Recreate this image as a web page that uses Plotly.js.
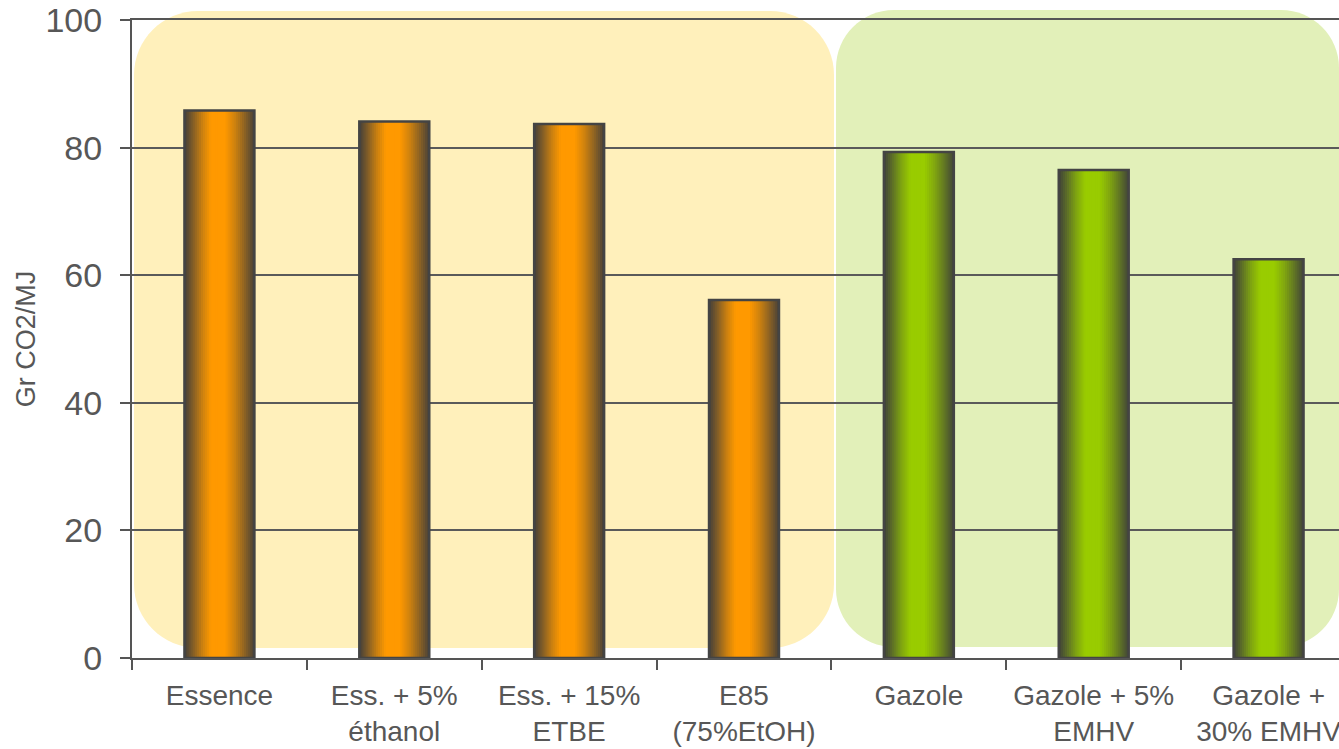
<!DOCTYPE html>
<html>
<head>
<meta charset="utf-8">
<script src="https://cdn.plot.ly/plotly-3.0.1.min.js"></script>
<style>
  html, body { margin: 0; padding: 0; overflow: hidden; background: #ffffff; }
  #chart { width: 1380px; height: 749px; }
</style>
</head>
<body>
<div id="chart"></div>
<script>
// ---- Data ----
var categories = [
  "Essence",
  "Ess. + 5%<br>éthanol",
  "Ess. + 15%<br>ETBE",
  "E85<br>(75%EtOH)",
  "Gazole",
  "Gazole + 5%<br>EMHV",
  "Gazole +<br>30% EMHV"
];
var values = [85.8, 84.1, 83.7, 56.1, 79.3, 76.5, 62.5];
var groups = ["essence", "essence", "essence", "essence", "gazole", "gazole", "gazole"];
var yTickVals = [0, 20, 40, 60, 80, 100];
var yTitle = "Gr CO2/MJ";

// ---- Styles ----
var baseColors = { essence: [255, 153, 0], gazole: [153, 204, 0] };
var darkColor = [60, 60, 60];
var barWidth = 0.40;
var nSlices = 34;
// brightness profile across the bar (cylinder shading)
var profile = [[0, 0.04], [0.1, 0.3], [0.25, 0.72], [0.38, 1], [0.58, 1], [0.72, 0.75], [0.86, 0.42], [1, 0.06]];

function profileAt(t) {
  for (var i = 1; i < profile.length; i++) {
    if (t <= profile[i][0]) {
      var a = profile[i - 1], b = profile[i];
      var f = (t - a[0]) / (b[0] - a[0]);
      return a[1] + f * (b[1] - a[1]);
    }
  }
  return profile[profile.length - 1][1];
}
function mix(c, w) {
  return 'rgb(' + [0, 1, 2].map(function (k) {
    return Math.round(darkColor[k] + (c[k] - darkColor[k]) * w);
  }).join(',') + ')';
}

var traces = [];
for (var s = 0; s < nSlices; s++) {
  var start = s / nSlices;
  var tMid = (s + 0.5) / nSlices;
  var w = profileAt(tMid);
  traces.push({
    type: 'bar',
    x: categories,
    y: values,
    width: barWidth * (1 - start),
    offset: -barWidth / 2 + barWidth * start,
    marker: {
      color: groups.map(function (g) { return mix(baseColors[g], w); }),
      line: { width: 0 }
    },
    hoverinfo: 'skip',
    showlegend: false
  });
}
// outline
traces.push({
  type: 'bar',
  x: categories,
  y: values,
  width: barWidth,
  offset: -barWidth / 2,
  marker: { color: 'rgba(0,0,0,0)', line: { width: 2.5, color: '#444444' } },
  hovertemplate: '%{y}<extra></extra>',
  showlegend: false
});

// ---- Background rounded panels (paper coords) ----
var plotL = 132, plotR = 1356, plotT = 20, plotB = 658;
function px2paperX(px) { return (px - plotL) / (plotR - plotL); }
function px2paperY(py) { return (plotB - py) / (plotB - plotT); }
function roundedRect(x0, y0, x1, y1, r) {
  var k = 0.5523 * r;
  var X = px2paperX, Y = px2paperY;
  var p = [];
  p.push('M' + X(x0 + r) + ',' + Y(y0));
  p.push('L' + X(x1 - r) + ',' + Y(y0));
  p.push('C' + X(x1 - r + k) + ',' + Y(y0) + ' ' + X(x1) + ',' + Y(y0 + r - k) + ' ' + X(x1) + ',' + Y(y0 + r));
  p.push('L' + X(x1) + ',' + Y(y1 - r));
  p.push('C' + X(x1) + ',' + Y(y1 - r + k) + ' ' + X(x1 - r + k) + ',' + Y(y1) + ' ' + X(x1 - r) + ',' + Y(y1));
  p.push('L' + X(x0 + r) + ',' + Y(y1));
  p.push('C' + X(x0 + r - k) + ',' + Y(y1) + ' ' + X(x0) + ',' + Y(y1 - r + k) + ' ' + X(x0) + ',' + Y(y1 - r));
  p.push('L' + X(x0) + ',' + Y(y0 + r));
  p.push('C' + X(x0) + ',' + Y(y0 + r - k) + ' ' + X(x0 + r - k) + ',' + Y(y0) + ' ' + X(x0 + r) + ',' + Y(y0));
  p.push('Z');
  return p.join(' ');
}

var shapes = [
  { type: 'path', xref: 'paper', yref: 'paper', layer: 'below',
    path: roundedRect(134, 11, 834, 648, 64), fillcolor: '#FFF0BB', line: { width: 0 } },
  { type: 'path', xref: 'paper', yref: 'paper', layer: 'below',
    path: roundedRect(836, 10, 1339, 647, 58), fillcolor: '#E2F0B9', line: { width: 0 } }
];

var textColor = '#575757';
var layout = {
  width: 1380,
  height: 749,
  margin: { l: plotL, r: 1380 - plotR, t: plotT, b: 749 - plotB },
  paper_bgcolor: 'rgba(0,0,0,0)',
  plot_bgcolor: 'rgba(0,0,0,0)',
  barmode: 'overlay',
  font: { family: 'Liberation Sans, Arial, sans-serif', color: textColor },
  shapes: shapes,
  xaxis: {
    type: 'category',
    range: [-0.5, 6.5],
    tickson: 'boundaries',
    ticks: 'outside',
    ticklen: 10,
    tickwidth: 2,
    tickcolor: '#555555',
    showline: true,
    linecolor: '#555555',
    linewidth: 2,
    mirror: true,
    showgrid: false,
    zeroline: false,
    tickfont: { size: 28, color: textColor },
    ticklabelstandoff: 11,
    fixedrange: true
  },
  yaxis: {
    range: [0, 100],
    tickvals: yTickVals,
    ticks: 'outside',
    ticklen: 10,
    tickwidth: 2,
    tickcolor: '#555555',
    showline: true,
    linecolor: '#555555',
    linewidth: 2,
    showgrid: true,
    gridcolor: '#5a5a5a',
    gridwidth: 2,
    zeroline: false,
    tickfont: { size: 34, color: textColor },
    ticklabelstandoff: 11,
    title: { text: yTitle, font: { size: 27, color: textColor }, standoff: 2 },
    automargin: false,
    fixedrange: true
  },
  showlegend: false
};

Plotly.newPlot('chart', traces, layout, { displayModeBar: false, staticPlot: true });
</script>
</body>
</html>
